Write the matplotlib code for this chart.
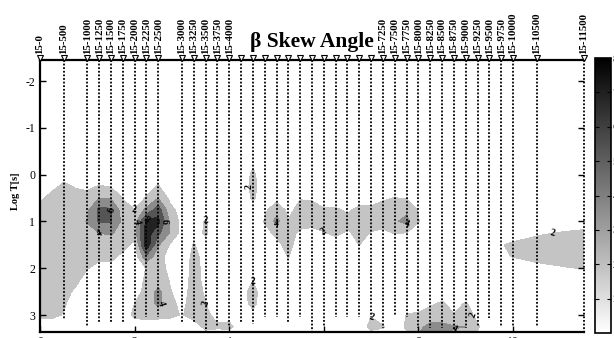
import numpy as np
import matplotlib as mpl
import matplotlib.pyplot as plt

plt.rcParams['font.family'] = ['Liberation Serif', 'DejaVu Serif']

# stations along the profile (x in km), label shown above each triangle
stations = [0, 0.5, 1.0, 1.25, 1.5, 1.75, 2.0, 2.25, 2.5, 3.0, 3.25, 3.5, 3.75, 4.0,
            4.25, 4.5, 4.75, 5.0, 5.25, 5.5, 5.75, 6.0, 6.25, 6.5, 6.75, 7.0,
            7.25, 7.5, 7.75, 8.0, 8.25, 8.5, 8.75, 9.0, 9.25, 9.5, 9.75, 10.0, 10.5, 11.5]
station_labels = ['15-0', '15-500', '15-1000', '15-1250', '15-1500', '15-1750', '15-2000',
                  '15-2250', '15-2500', '15-3000', '15-3250', '15-3500', '15-3750', '15-4000',
                  '', '', '', '', '', '', '', '', '', '', '', '',
                  '15-7250', '15-7500', '15-7750', '15-8000', '15-8250', '15-8500', '15-8750',
                  '15-9000', '15-9250', '15-9500', '15-9750', '15-10000', '15-10500', '15-11500']
# deepest period (log T) reached by each station
station_depth = [3.1, 3.08, 3.25, 3.14, 3.14, 3.14, 3.1, 3.03, 3.03, 3.14, 3.14, 3.35, 3.25, 3.25,
                 3.14, 3.2, 3.03, 3.03, 3.14, 3.03, 3.33, 3.25, 3.03, 3.03, 3.03, 3.03,
                 3.27, 3.0, 3.03, 3.27, 3.27, 3.27, 3.3, 3.27, 3.25, 3.06, 3.25, 3.25, 3.25, 3.35]

# skew grid: x every 0.25 km, log T from -0.75 to 3.5 every 0.25
x_grid = np.arange(0, 11.51, 0.25)
logt_grid = np.arange(-0.75, 3.51, 0.25)

# one list per x column (top to bottom in log T)
skew_cols = [
    [0, 0, 0, 0.5, 1.0, 1.7, 2.6, 2.9, 3.0, 3.0, 3.0, 2.9, 2.8, 2.7, 2.6, 2.4, 1.0, 0],      # 0.00
    [0, 0, 0, 0.6, 1.6, 2.5, 2.9, 3.0, 3.0, 3.0, 3.0, 2.9, 2.8, 2.7, 2.5, 2.4, 1.0, 0],      # 0.25
    [0, 0, 0, 1.5, 2.3, 2.7, 2.9, 3.0, 3.0, 3.0, 2.9, 2.8, 2.6, 2.4, 2.2, 1.9, 0.5, 0],      # 0.50
    [0, 0, 0, 1.2, 1.9, 2.5, 2.9, 3.2, 3.2, 3.0, 2.8, 2.6, 2.3, 1.8, 1.3, 0.8, 0, 0],        # 0.75
    [0, 0, 0, 1.0, 1.7, 2.5, 3.6, 4.1, 3.4, 2.9, 2.5, 2.05, 1.5, 1.0, 0.6, 0.4, 0, 0],       # 1.00
    [0, 0, 0, 1.2, 2.1, 4.0, 6.5, 6.2, 4.0, 3.0, 2.3, 1.6, 1.0, 0.6, 0.3, 0, 0, 0],          # 1.25
    [0, 0, 0, 1.0, 1.9, 3.8, 6.3, 6.1, 4.2, 3.0, 2.4, 1.5, 0.8, 0.4, 0, 0, 0, 0],            # 1.50
    [0, 0, 0, 0.5, 1.2, 1.9, 2.9, 3.5, 3.2, 2.6, 1.6, 0.8, 0.3, 0, 0.3, 1.0, 0.3, 0],        # 1.75
    [0, 0, 0, 0.3, 0.9, 1.4, 2.0, 3.2, 3.0, 1.5, 0.8, 0.5, 0.8, 1.2, 2.0, 2.4, 1.0, 0],      # 2.00
    [0, 0.3, 0.3, 0.8, 1.5, 2.1, 4.5, 8.5, 9.0, 9.5, 5.5, 2.1, 2.4, 2.6, 2.8, 2.6, 1.0, 0],  # 2.25
    [0, 0, 0, 1.4, 2.1, 4.0, 7.0, 8.6, 6.5, 4.2, 2.8, 2.6, 2.9, 4.6, 4.5, 2.5, 1.0, 0],      # 2.50
    [0, 0, 0, 0.5, 1.0, 1.5, 2.6, 3.6, 3.8, 1.8, 1.2, 1.6, 1.9, 2.1, 2.4, 2.4, 0.8, 0],      # 2.75
    [0, 0, 0, 0, 0.3, 0.6, 1.2, 1.4, 1.2, 0.8, 0.6, 0.8, 1.0, 1.3, 1.6, 1.9, 0.8, 0],        # 3.00
    [0, 0, 0, 0, 0, 0, 0.5, 1.0, 1.0, 2.1, 2.6, 2.7, 2.7, 2.7, 2.7, 2.6, 1.2, 0],            # 3.25
    [0, 0, 0, 0, 0, 0.3, 0.8, 2.2, 2.3, 1.3, 1.3, 1.4, 1.5, 1.8, 2.0, 2.3, 2.4, 1.0],        # 3.50
    [0, 0, 0, 0, 0, 0, 0.3, 0.5, 0.5, 0.3, 0.3, 0.4, 0.5, 0.8, 1.2, 1.6, 2.2, 1.0],          # 3.75
    [0, 0, 0, 0, 0, 0, 0, 0, 0, 0, 0, 0, 0.3, 0.5, 0.8, 1.6, 2.3, 1.0],                      # 4.00
    [0, 0, 0, 0, 0, 0, 0, 0, 0, 0, 0, 0, 0.5, 0.8, 0.8, 0.6, 1.4, 0.5],                      # 4.25
    [0, 0, 1.5, 2.6, 3.0, 2.4, 1.0, 1.2, 1.0, 0.5, 0.3, 0.5, 1.9, 3.0, 2.8, 1.2, 0.5, 0],    # 4.50
    [0, 0, 0, 0, 0, 0.5, 1.6, 2.1, 1.4, 0.6, 0.3, 0, 0, 0.3, 0.3, 0.2, 0, 0],                # 4.75
    [0, 0, 0, 0, 0.3, 1.2, 3.3, 4.6, 2.4, 1.5, 0.8, 0.3, 0, 0, 0, 0, 0, 0],                  # 5.00
    [0, 0, 0, 0, 0.3, 0.8, 1.5, 2.1, 2.6, 2.6, 2.1, 1.0, 0.3, 0, 0, 0, 0, 0],                # 5.25
    [0, 0, 0, 0, 0.5, 1.9, 2.6, 2.6, 1.7, 1.0, 0.5, 0, 0, 0, 0, 0, 0, 0],                    # 5.50
    [0, 0, 0, 0, 0.5, 1.8, 2.6, 2.5, 1.5, 0.5, 0, 0, 0, 0, 0, 0, 0, 0],                      # 5.75
    [0, 0, 0, 0, 0.3, 1.0, 2.2, 2.6, 1.9, 0.6, 0, 0, 0, 0, 0, 0, 0, 0],                      # 6.00
    [0, 0, 0, 0, 0.3, 1.1, 2.2, 2.6, 2.3, 1.2, 0.3, 0, 0, 0, 0, 0, 0, 0],                    # 6.25
    [0, 0, 0, 0, 0, 0.8, 1.8, 2.4, 1.8, 0.8, 0, 0, 0, 0, 0, 0, 0, 0],                        # 6.50
    [0, 0, 0, 0, 0.3, 1.4, 2.3, 2.6, 2.4, 2.05, 1.0, 0, 0, 0, 0, 0, 1.0, 0],                 # 6.75
    [0, 0, 0, 0, 0.3, 1.4, 2.3, 2.6, 1.9, 0.6, 0, 0, 0, 0, 0, 1.9, 2.5, 0.8],                # 7.00
    [0, 0, 0, 0, 0.5, 1.8, 2.6, 2.6, 1.6, 0.5, 0, 0, 0, 0, 0, 0.8, 2.2, 0.5],                # 7.25
    [0, 0, 0, 0, 0.8, 2.05, 3.0, 3.8, 2.1, 0.8, 0, 0, 0, 0, 0, 0.3, 0.5, 0],                 # 7.50
    [0, 0, 0, 0, 0.5, 1.9, 3.6, 4.5, 1.9, 0.5, 0, 0, 0, 0, 0.8, 2.1, 2.4, 1.0],              # 7.75
    [0, 0, 0, 0, 0.3, 1.2, 1.9, 2.1, 1.2, 0.3, 0, 0, 0, 0, 0.8, 2.4, 3.6, 4.2],              # 8.00
    [0, 0, 0, 0, 0, 0.3, 0.8, 0.8, 0.3, 0, 0, 0, 0, 0.3, 1.6, 3.0, 4.5, 4.5],                # 8.25
    [0, 0, 0, 0, 0, 0, 0, 0, 0, 0, 0, 0, 0, 0.8, 2.3, 3.0, 4.5, 4.0],                        # 8.50
    [0, 0, 0, 0, 0, 0, 0, 0, 0, 0, 0, 0, 0, 0.3, 1.2, 2.1, 4.2, 3.0],                        # 8.75
    [0, 0, 0, 0, 0, 0, 0, 0, 0, 0, 0, 0, 0, 0.5, 2.2, 2.8, 4.0, 3.0],                        # 9.00
    [0, 0, 0, 0, 0, 0, 0, 0, 0, 0, 0, 0, 0, 0, 0.8, 1.5, 2.2, 1.5],                          # 9.25
    [0, 0, 0, 0, 0, 0, 0, 0, 0, 0, 0, 0, 0, 0, 0, 0.3, 1.0, 0.5],                            # 9.50
    [0, 0, 0, 0, 0, 0, 0, 0, 0.5, 1.9, 1.8, 0.5, 0, 0, 0, 0, 0, 0],                          # 9.75
    [0, 0, 0, 0, 0, 0, 0, 0.3, 1.2, 2.3, 2.05, 1.0, 0, 0, 0, 0, 0, 0],                       # 10.00
    [0, 0, 0, 0, 0, 0, 0, 0.5, 1.5, 2.5, 2.3, 1.2, 0, 0, 0, 0, 0, 0],                        # 10.25
    [0, 0, 0, 0, 0, 0, 0, 0.6, 1.8, 2.6, 2.5, 1.5, 0.3, 0, 0, 0, 0, 0],                      # 10.50
    [0, 0, 0, 0, 0, 0, 0, 0.8, 1.95, 2.7, 2.6, 1.7, 0.5, 0, 0, 0, 0, 0],                     # 10.75
    [0, 0, 0, 0, 0, 0, 0, 1.0, 2.1, 2.9, 2.8, 1.8, 0.6, 0, 0, 0, 0, 0],                      # 11.00
    [0, 0, 0, 0, 0, 0, 0, 1.2, 2.2, 3.2, 3.2, 1.95, 0.7, 0, 0, 0, 0, 0],                     # 11.25
    [0, 0, 0, 0, 0, 0, 0, 1.3, 2.3, 3.9, 3.8, 2.05, 0.8, 0, 0, 0, 0, 0],                     # 11.50
]

levels = [2, 4, 6, 8, 12]
fill_colors = ['#c4c4c4', '#8c8c8c', '#555555', '#222222']

X, Y = np.meshgrid(x_grid, logt_grid)
Z = np.array(skew_cols).T

fig = plt.figure(figsize=(6.14, 3.38), dpi=100)
ax = fig.add_axes([40 / 614, 1 - 331.5 / 338, 544 / 614, 271.5 / 338])

ax.contourf(X, Y, Z, levels=levels, colors=fill_colors)
cs = ax.contour(X, Y, Z, levels=levels[:-1], colors='k', linewidths=0)
for t in ax.clabel(cs, fmt='%d', fontsize=7, inline=False):
    t.set_fontweight('bold')

ytop = -2.45
ybot = 3.35
for s, d in zip(stations, station_depth):
    ax.plot([s, s], [ytop, d], color='k', lw=1.3, linestyle=(0, (1, 1)),
            clip_on=False, zorder=3)

ax.plot(stations, [ytop - 0.04] * len(stations), 'v', ms=5, mfc='white', mec='k',
        mew=0.8, clip_on=False, zorder=6)
for s, lab in zip(stations, station_labels):
    if lab:
        ax.text(s, ytop - 0.13, lab, rotation=90, ha='center', va='bottom',
                fontsize=7.8, fontweight='bold')

ax.set_xlim(0, 11.5)
ax.set_ylim(ybot, ytop)
ax.set_yticks([-2, -1, 0, 1, 2, 3])
ax.set_yticklabels(['-2', '-1', '0', '1', '2', '3'])
ax.set_xticks([0, 2, 4, 6, 8, 10])
ax.set_xticklabels(['0', '2', '4', '', '8', '10'])
ax.tick_params(direction='in', length=4, width=1, labelsize=8.5, right=True)
for side in ['top', 'bottom', 'left']:
    ax.spines[side].set_linewidth(1.6)
ax.spines['right'].set_visible(False)

fig.text(16 / 614, 1 - 191 / 338, 'Log T[s]', rotation=90, ha='center', va='center',
         fontsize=7.5, fontweight='bold')
fig.text(312 / 614, 1 - 47 / 338, 'β Skew Angle', ha='center', va='baseline',
         fontsize=15.5, fontweight='bold')

cax = fig.add_axes([595 / 614, 1 - 333 / 338, 16 / 614, 275 / 338])
cb = mpl.colorbar.ColorbarBase(cax, cmap=plt.get_cmap('gray_r'),
                               norm=mpl.colors.Normalize(0, 8))
cb.set_ticks([1, 2, 3, 4, 5, 6, 7, 8])
cax.tick_params(direction='in', length=3, left=True, right=True, labelsize=8, pad=1)
cb.outline.set_linewidth(1.2)

fig.savefig('out.png', dpi=100)
